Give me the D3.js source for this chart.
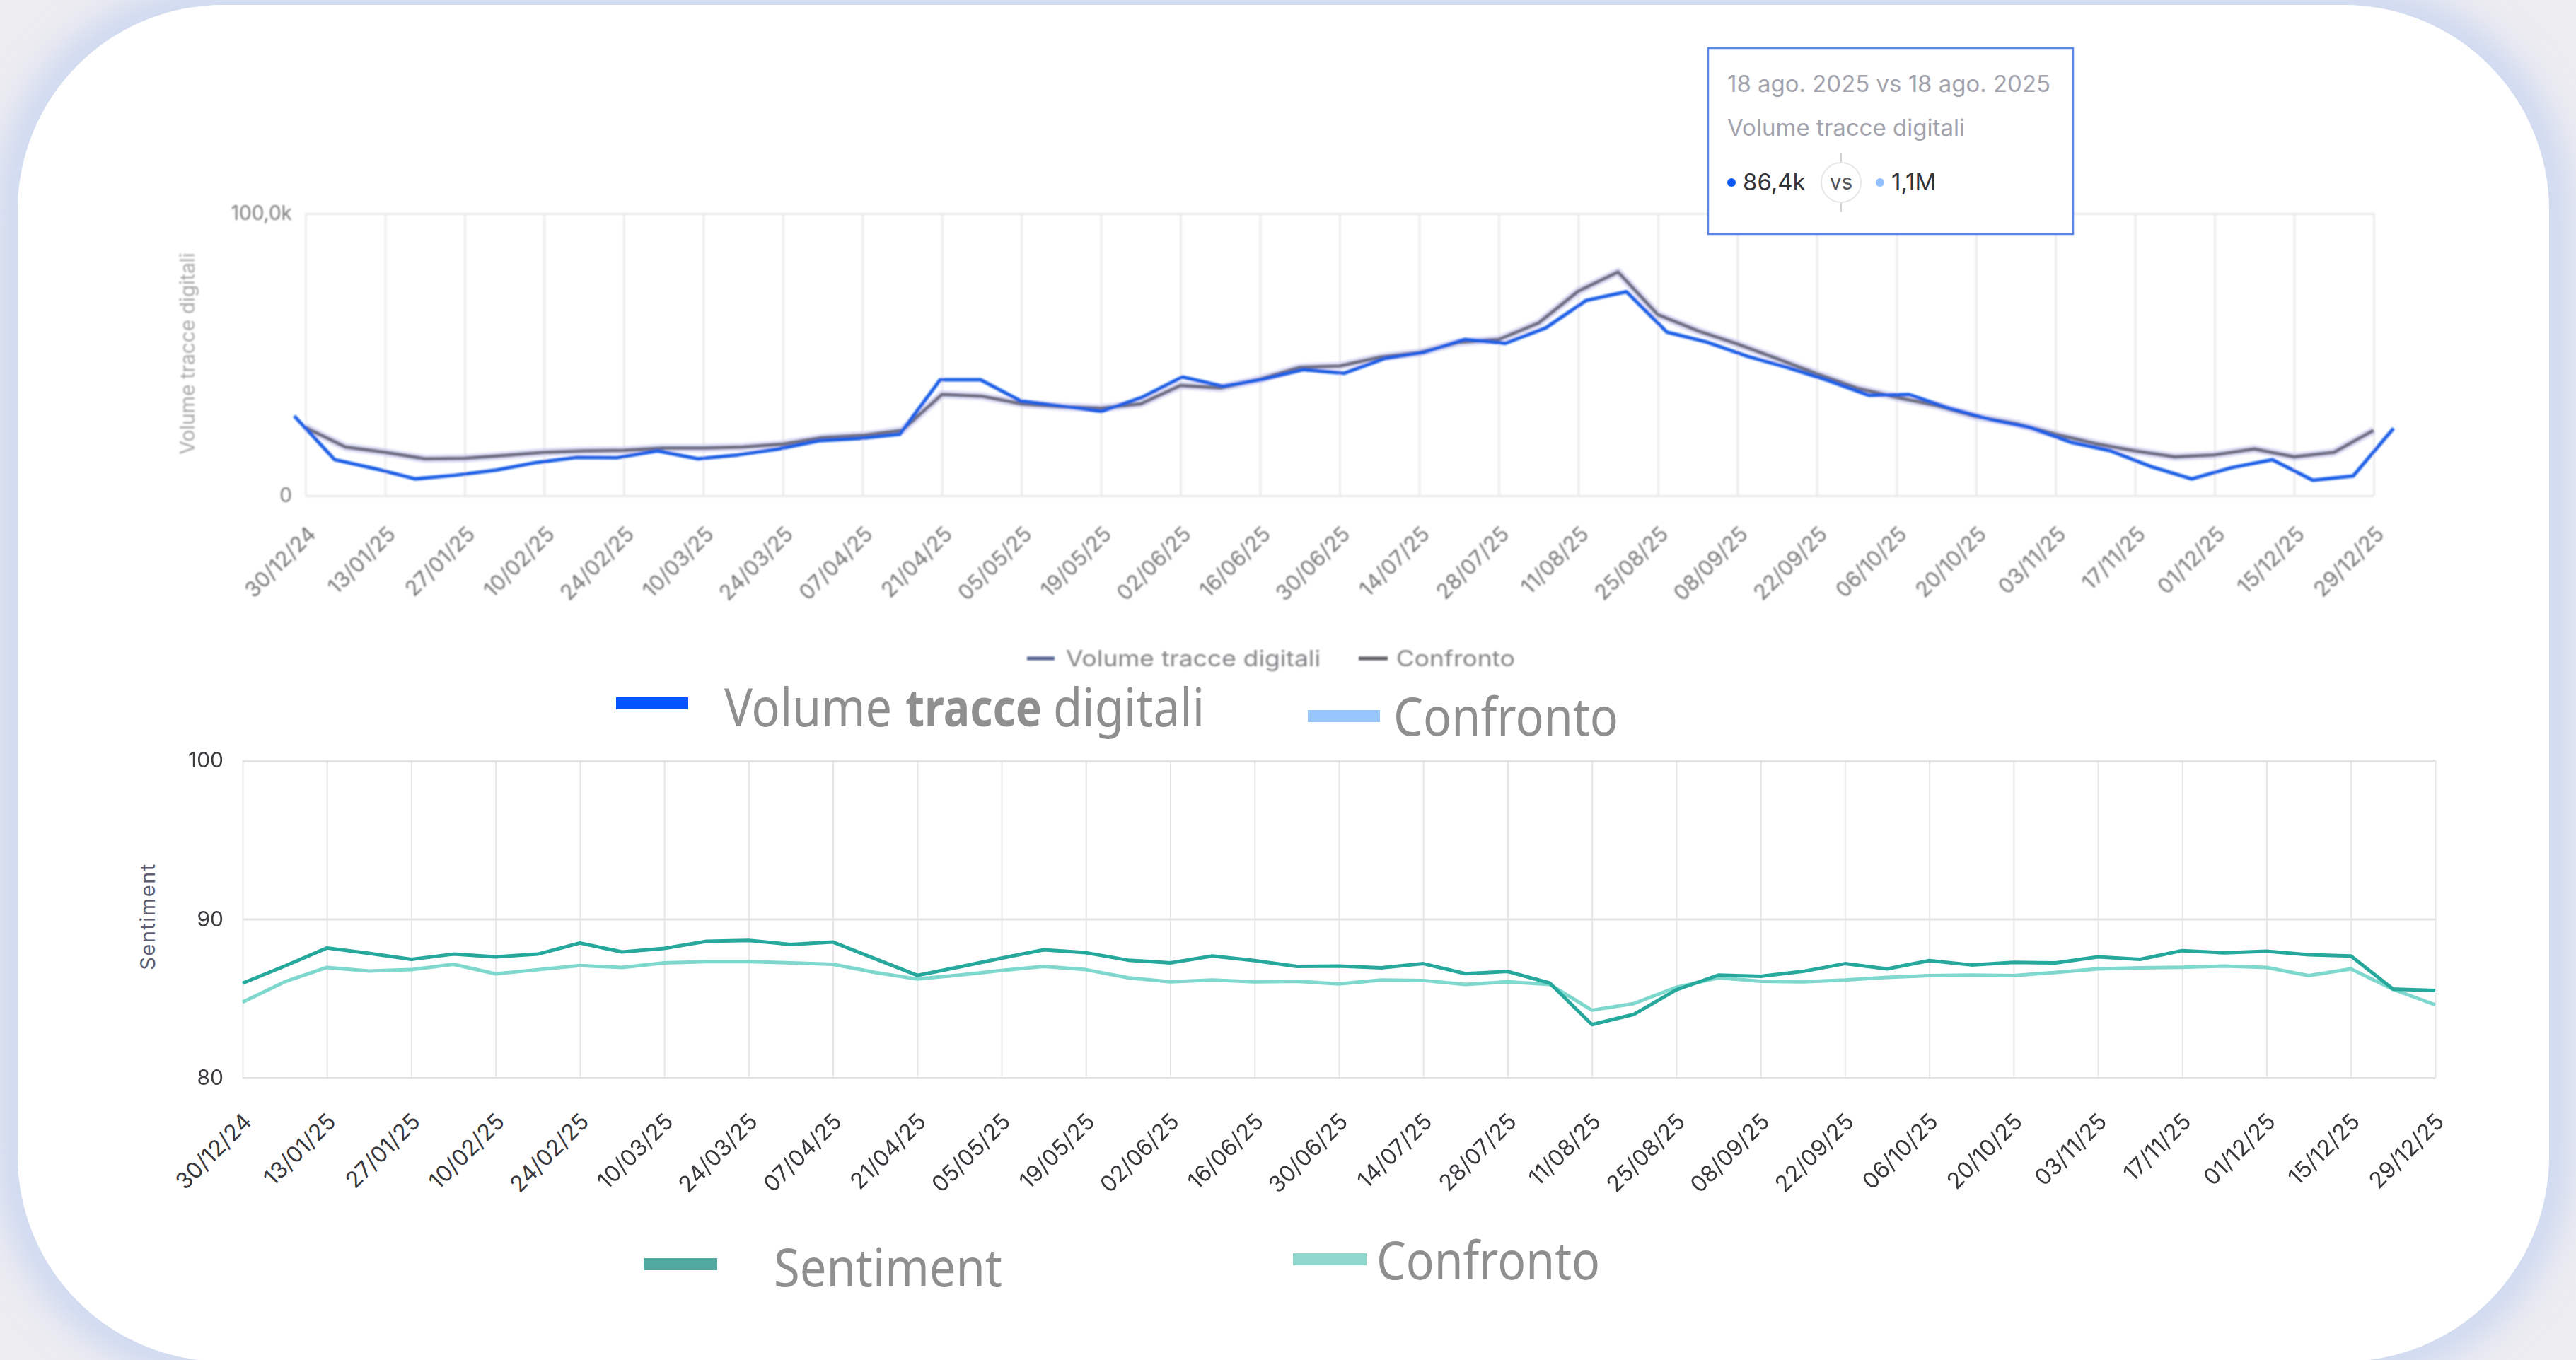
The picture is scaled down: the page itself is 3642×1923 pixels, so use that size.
<!DOCTYPE html>
<html>
<head>
<meta charset="utf-8">
<script src="https://cdn.jsdelivr.net/npm/d3@7"></script>
<style>
  html, body { margin: 0; padding: 0; background: #ececf1; overflow: hidden; }
  svg { display: block; }
</style>
</head>
<body>
<svg id="chart" width="3642" height="1923"></svg>
<script>
// ---- Data -------------------------------------------------------------
// Weekly periods (Monday of each week)
const weeks = [
  "30/12/24","06/01/25","13/01/25","20/01/25","27/01/25","03/02/25","10/02/25","17/02/25",
  "24/02/25","03/03/25","10/03/25","17/03/25","24/03/25","31/03/25","07/04/25","14/04/25",
  "21/04/25","28/04/25","05/05/25","12/05/25","19/05/25","26/05/25","02/06/25","09/06/25",
  "16/06/25","23/06/25","30/06/25","07/07/25","14/07/25","21/07/25","28/07/25","04/08/25",
  "11/08/25","18/08/25","25/08/25","01/09/25","08/09/25","15/09/25","22/09/25","29/09/25",
  "06/10/25","13/10/25","20/10/25","27/10/25","03/11/25","10/11/25","17/11/25","24/11/25",
  "01/12/25","08/12/25","15/12/25","22/12/25","29/12/25"
];

// Labelled ticks on both x axes (every second week)
const tickWeeks = [
  "30/12/24","13/01/25","27/01/25","10/02/25","24/02/25","10/03/25","24/03/25","07/04/25",
  "21/04/25","05/05/25","19/05/25","02/06/25","16/06/25","30/06/25","14/07/25","28/07/25",
  "11/08/25","25/08/25","08/09/25","22/09/25","06/10/25","20/10/25","03/11/25","17/11/25",
  "01/12/25","15/12/25","29/12/25"
];

// Volume tracce digitali (thousands)
const volume = [
  28.3, 12.8, 9.6, 6.0, 7.3, 9.1, 11.8, 13.6, 13.5, 15.9, 13.1, 14.5, 16.6, 19.5, 20.3, 21.8,
  41.1, 41.1, 33.6, 31.8, 29.9, 34.9, 42.1, 38.8, 41.3, 44.7, 43.4, 48.6, 50.9, 55.4, 54.0, 59.5,
  69.2, 72.3, 58.0, 54.4, 49.4, 45.4, 40.8, 35.6, 35.9, 31.0, 27.1, 24.2, 19.0, 15.9, 10.3, 6.0,
  10.0, 12.8, 5.5, 7.0, 23.9
];
// Confronto for the volume series (thousands)
const volumeConfronto = [
  24.2, 17.3, 15.4, 13.1, 13.3, 14.3, 15.4, 15.9, 16.1, 16.9, 16.9, 17.3, 18.3, 20.6, 21.4, 23.2,
  35.9, 35.3, 32.6, 31.6, 31.0, 32.6, 39.1, 38.2, 41.3, 45.5, 46.0, 49.1, 50.7, 54.4, 55.4, 61.2,
  72.5, 79.3, 64.2, 58.5, 53.8, 48.6, 43.2, 38.2, 34.9, 32.0, 28.1, 25.6, 21.8, 18.5, 15.9, 13.8,
  14.5, 16.6, 13.8, 15.4, 23.2
];

// Sentiment index
const sentiment = [
  85.96, 87.04, 88.18, 87.84, 87.46, 87.79, 87.62, 87.79, 88.49, 87.93, 88.15, 88.60, 88.65, 88.40, 88.55, 87.50,
  86.45, 86.98, 87.54, 88.06, 87.88, 87.41, 87.24, 87.67, 87.38, 87.02, 87.04, 86.93, 87.19, 86.56, 86.70, 85.97,
  83.35, 84.00, 85.54, 86.47, 86.39, 86.70, 87.19, 86.86, 87.38, 87.11, 87.27, 87.24, 87.62, 87.46, 88.01, 87.87,
  87.97, 87.75, 87.67, 85.59, 85.50
];
// Confronto for the sentiment series
const sentimentConfronto = [
  84.77, 86.05, 86.95, 86.73, 86.81, 87.15, 86.55, 86.81, 87.07, 86.95, 87.24, 87.32, 87.32, 87.24, 87.15, 86.64,
  86.22, 86.47, 86.76, 87.02, 86.81, 86.30, 86.05, 86.16, 86.05, 86.08, 85.91, 86.16, 86.13, 85.88, 86.05, 85.88,
  84.26, 84.68, 85.70, 86.30, 86.08, 86.05, 86.16, 86.33, 86.44, 86.47, 86.44, 86.64, 86.86, 86.93, 86.96, 87.04,
  86.95, 86.44, 86.86, 85.57, 84.60
];

const volumeTicks = [0, 100];
const sentimentTicks = [80, 90, 100];

const volumeTitle = "Volume tracce digitali";
const volumeTitleWords = ["Volume", "tracce", "digitali"];
const sentimentTitle = "Sentiment";
const compareName = "Confronto";

const tooltipHeader = "18 ago. 2025 vs 18 ago. 2025";
const tooltipValues = ["86,4k", "1,1M"];

// ---- Setup --------------------------------------------------------------
const W = 3642, H = 1923;
const svg = d3.select("#chart");
const defs = svg.append("defs");

defs.append("filter").attr("id", "glow")
  .attr("x", "-10%").attr("y", "-10%").attr("width", "120%").attr("height", "120%")
  .append("feGaussianBlur").attr("stdDeviation", 26);
defs.append("filter").attr("id", "soft")
  .attr("x", "-2%").attr("y", "-2%").attr("width", "104%").attr("height", "104%")
  .append("feGaussianBlur").attr("stdDeviation", 1.1);

const it = d3.formatLocale({ decimal: ",", thousands: ".", grouping: [3], currency: ["€", ""] });
const fmtK = v => v === 0 ? "0" : it.format(".1f")(v) + "k";

const FONT = "Inter, 'Noto Sans', sans-serif";

// page background + card
svg.append("rect").attr("width", W).attr("height", H).attr("fill", "#ececf1");
svg.append("rect")
  .attr("x", 25).attr("y", 7).attr("width", 3579).attr("height", 1918).attr("rx", 290)
  .attr("fill", "none").attr("stroke", "#c2d1f0").attr("stroke-width", 44)
  .attr("filter", "url(#glow)");
svg.append("rect")
  .attr("x", 25).attr("y", 7).attr("width", 3579).attr("height", 1918).attr("rx", 290)
  .attr("fill", "#ffffff");

// ---- Volume chart ------------------------------------------------------
const topG = svg.append("g").attr("filter", "url(#soft)");
const vTop = 302, vBottom = 701;
const xVol = d3.scalePoint().domain(weeks).range([432, 3356]);
const xVolMain = d3.scalePoint().domain(weeks).range([416, 3384]);
const yVol = d3.scaleLinear().domain([0, 100]).range([vBottom, vTop]);

// vertical gridlines
topG.append("g")
  .attr("transform", `translate(0,${vBottom})`)
  .call(d3.axisBottom(xVol).tickValues(tickWeeks).tickSize(-(vBottom - vTop)).tickFormat(""))
  .call(g => g.select(".domain").remove())
  .call(g => g.selectAll("line").attr("stroke", "#ececee").attr("stroke-width", 3));

// horizontal gridlines + y labels
topG.append("g")
  .attr("transform", `translate(${xVol.range()[0]},0)`)
  .call(d3.axisLeft(yVol).tickValues(volumeTicks).tickSize(-(xVol.range()[1] - xVol.range()[0])).tickPadding(19).tickFormat(fmtK))
  .call(g => g.select(".domain").remove())
  .call(g => g.selectAll("line").attr("stroke", "#e8e8ea").attr("stroke-width", 3))
  .call(g => g.selectAll("text").attr("fill", "#7c7c7c").attr("font-size", 28).attr("font-family", FONT));

// x labels
topG.append("g")
  .attr("transform", `translate(0,${vBottom})`)
  .call(d3.axisBottom(xVol).tickValues(tickWeeks).tickSize(0).tickPadding(0))
  .call(g => g.select(".domain").remove())
  .call(g => g.selectAll("text")
    .attr("x", 0).attr("y", 0).attr("dy", 0)
    .attr("transform", "translate(16,56) rotate(-45)")
    .attr("text-anchor", "end")
    .attr("fill", "#767676").attr("font-size", 30).attr("font-family", FONT));

// y title
topG.append("text")
  .attr("transform", "translate(275,500) rotate(-90)")
  .attr("text-anchor", "middle")
  .attr("fill", "#a8a8ac").attr("font-size", 28).attr("font-family", FONT)
  .text(volumeTitle);

const lineVolC = d3.line().x((d, i) => xVol(weeks[i])).y(d => yVol(d));
const lineVol = d3.line().x((d, i) => xVolMain(weeks[i])).y(d => yVol(d));

topG.append("path").datum(volumeConfronto).attr("d", lineVolC)
  .attr("fill", "none").attr("stroke", "#c9c9f2").attr("stroke-opacity", 0.6)
  .attr("stroke-width", 12).attr("stroke-linejoin", "round");
topG.append("path").datum(volumeConfronto).attr("d", lineVolC)
  .attr("fill", "none").attr("stroke", "#6f7084").attr("stroke-width", 5).attr("stroke-linejoin", "round");
topG.append("path").datum(volume).attr("d", lineVol)
  .attr("fill", "none").attr("stroke", "#1a5fe6").attr("stroke-width", 5).attr("stroke-linejoin", "round");

// small legend under the volume chart
const smallLegend = topG.append("g").attr("font-family", FONT).attr("font-size", 31).attr("fill", "#858589");
smallLegend.append("line").attr("x1", 1452).attr("x2", 1491).attr("y1", 931).attr("y2", 931)
  .attr("stroke", "#4f5d8e").attr("stroke-width", 5);
smallLegend.append("text").attr("x", 1507).attr("y", 942)
  .attr("textLength", 360).attr("lengthAdjust", "spacingAndGlyphs").text(volumeTitle);
smallLegend.append("line").attr("x1", 1921).attr("x2", 1962).attr("y1", 931).attr("y2", 931)
  .attr("stroke", "#5a5a5e").attr("stroke-width", 5);
smallLegend.append("text").attr("x", 1974).attr("y", 942)
  .attr("textLength", 168).attr("lengthAdjust", "spacingAndGlyphs").text(compareName);

// ---- Large legends -----------------------------------------------------
const LEG_FONT = "'Noto Sans', 'Open Sans', sans-serif";
const legendColor = "#8f8f8f";

function legendText(x, y, len, str, bold) {
  return svg.append("text").attr("x", x).attr("y", y)
    .attr("font-family", LEG_FONT).attr("font-size", 74).attr("fill", legendColor)
    .attr("font-weight", bold ? "bold" : "normal")
    .attr("textLength", len).attr("lengthAdjust", "spacingAndGlyphs").text(str);
}

svg.append("rect").attr("x", 871).attr("y", 986).attr("width", 102).attr("height", 17).attr("fill", "#0055ff");
legendText(1024, 1027, 237, volumeTitleWords[0], false);
legendText(1280, 1027, 193, volumeTitleWords[1], true);
legendText(1489, 1027, 214, volumeTitleWords[2], false);

svg.append("rect").attr("x", 1849).attr("y", 1004).attr("width", 102).attr("height", 17).attr("fill", "#99c5ff");
legendText(1970, 1040, 318, compareName, false);

svg.append("rect").attr("x", 910).attr("y", 1779).attr("width", 104).attr("height", 17).attr("fill", "#52a9a0");
legendText(1094, 1819, 323, sentimentTitle, false);

svg.append("rect").attr("x", 1828).attr("y", 1772).attr("width", 104).attr("height", 17).attr("fill", "#8fd6cc");
legendText(1946, 1809, 316, compareName, false);

// ---- Sentiment chart ---------------------------------------------------
const sG = svg.append("g");
const sTop = 1075, sBottom = 1524;
const xS = d3.scalePoint().domain(weeks).range([343, 3443]);
const yS = d3.scaleLinear().domain([80, 100]).range([sBottom, sTop]);

sG.append("g")
  .attr("transform", `translate(0,${sBottom})`)
  .call(d3.axisBottom(xS).tickValues(tickWeeks).tickSize(-(sBottom - sTop)).tickFormat(""))
  .call(g => g.select(".domain").remove())
  .call(g => g.selectAll("line").attr("stroke", "#e6e6e8").attr("stroke-width", 2));

sG.append("g")
  .attr("transform", `translate(${xS.range()[0]},0)`)
  .call(d3.axisLeft(yS).tickValues(sentimentTicks).tickSize(-(xS.range()[1] - xS.range()[0])).tickPadding(27))
  .call(g => g.select(".domain").remove())
  .call(g => g.selectAll("line").attr("stroke", "#e4e4e6").attr("stroke-width", 3))
  .call(g => g.selectAll("text").attr("fill", "#3c3c40").attr("font-size", 30).attr("font-family", FONT));

sG.append("g")
  .attr("transform", `translate(0,${sBottom})`)
  .call(d3.axisBottom(xS).tickValues(tickWeeks).tickSize(0).tickPadding(0))
  .call(g => g.select(".domain").remove())
  .call(g => g.selectAll("text")
    .attr("x", 0).attr("y", 0).attr("dy", 0)
    .attr("transform", "translate(14,64) rotate(-45)")
    .attr("text-anchor", "end")
    .attr("fill", "#38383c").attr("font-size", 32).attr("font-family", FONT));

sG.append("text")
  .attr("transform", "translate(219,1296) rotate(-90)")
  .attr("text-anchor", "middle")
  .attr("fill", "#5d5d72").attr("font-size", 29).attr("letter-spacing", 1.5).attr("font-family", FONT)
  .text(sentimentTitle);

const lineS = d3.line().x((d, i) => xS(weeks[i])).y(d => yS(d));
sG.append("path").datum(sentimentConfronto).attr("d", lineS)
  .attr("fill", "none").attr("stroke", "#7fd8cd").attr("stroke-width", 5).attr("stroke-linejoin", "round");
sG.append("path").datum(sentiment).attr("d", lineS)
  .attr("fill", "none").attr("stroke", "#27a89c").attr("stroke-width", 5).attr("stroke-linejoin", "round");

// ---- Tooltip -----------------------------------------------------------
const tip = svg.append("g").attr("font-family", FONT);
tip.append("rect").attr("x", 2415).attr("y", 68).attr("width", 516).attr("height", 263)
  .attr("fill", "#ffffff").attr("stroke", "#5a86e6").attr("stroke-width", 2.5);
tip.append("text").attr("x", 2442).attr("y", 130).attr("font-size", 32).attr("fill", "#a3a3ad")
  .attr("textLength", 457).attr("lengthAdjust", "spacingAndGlyphs").text(tooltipHeader);
tip.append("text").attr("x", 2442).attr("y", 192).attr("font-size", 32).attr("fill", "#a3a3ad")
  .attr("textLength", 336).attr("lengthAdjust", "spacingAndGlyphs").text(volumeTitle);
tip.append("circle").attr("cx", 2448).attr("cy", 258).attr("r", 6).attr("fill", "#0a57f5");
tip.append("text").attr("x", 2464).attr("y", 269).attr("font-size", 33).attr("fill", "#333338").text(tooltipValues[0]);
tip.append("line").attr("x1", 2603).attr("x2", 2603).attr("y1", 216).attr("y2", 229).attr("stroke", "#cfcfd4").attr("stroke-width", 2);
tip.append("line").attr("x1", 2603).attr("x2", 2603).attr("y1", 287).attr("y2", 300).attr("stroke", "#cfcfd4").attr("stroke-width", 2);
tip.append("circle").attr("cx", 2603).attr("cy", 258).attr("r", 28).attr("fill", "#ffffff").attr("stroke", "#e8e8ec").attr("stroke-width", 2);
tip.append("text").attr("x", 2603).attr("y", 268).attr("text-anchor", "middle").attr("font-size", 30).attr("fill", "#55555c").text("vs");
tip.append("circle").attr("cx", 2658).attr("cy", 258).attr("r", 6).attr("fill", "#93c0ff");
tip.append("text").attr("x", 2674).attr("y", 269).attr("font-size", 33).attr("fill", "#333338").text(tooltipValues[1]);
</script>
</body>
</html>
